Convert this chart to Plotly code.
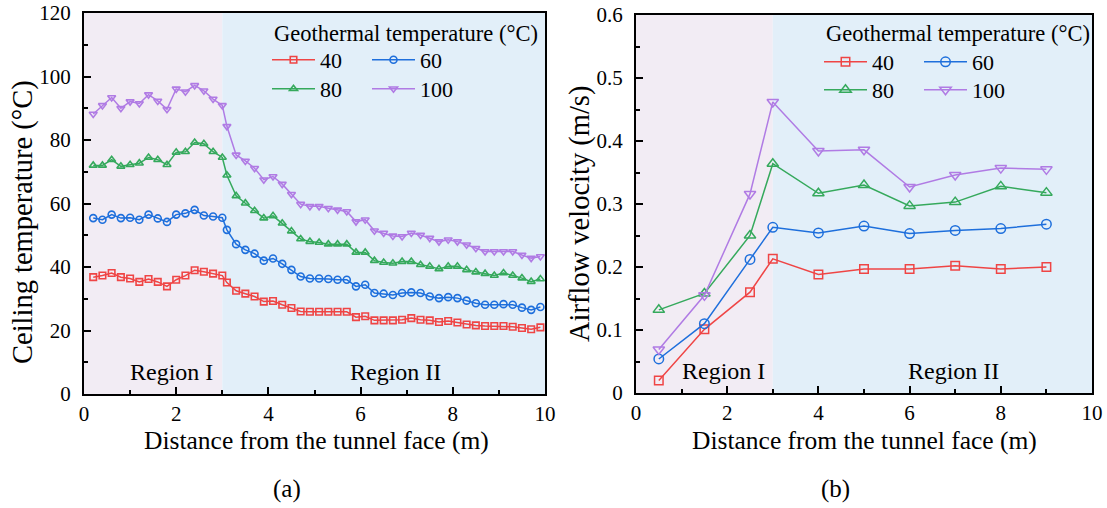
import plotly.graph_objects as go

# ---------------- data ----------------
# (a) ceiling temperature vs distance
dist_a = [0.2, 0.4, 0.6, 0.8, 1.0, 1.2, 1.4, 1.6, 1.8, 2.0, 2.2, 2.4, 2.6, 2.8, 3.0,
          3.1,
          3.3, 3.5, 3.7, 3.9, 4.1, 4.3, 4.5, 4.7, 4.9, 5.1, 5.3, 5.5, 5.7, 5.9, 6.1, 6.3,
          6.5, 6.7, 6.9, 7.1, 7.3, 7.5, 7.7, 7.9, 8.1, 8.3, 8.5, 8.7, 8.9, 9.1, 9.3, 9.5, 9.7, 9.9]
temp_40 = [36.8, 37.3, 38.1, 36.8, 36.4, 35.3, 36.2, 35.3, 33.9, 36.0, 37.3, 39.0, 38.5, 37.9, 37.3,
           35.1,
           32.5, 31.6, 30.7, 29.1, 29.3, 28.1, 27.1, 26.0, 25.9, 25.9, 25.9, 25.9, 25.9, 24.2, 24.5, 23.2,
           23.2, 23.2, 23.4, 23.9, 23.4, 23.2, 22.7, 23.0, 22.5, 21.9, 21.6, 21.4, 21.4, 21.4, 21.2, 20.8, 20.4, 21.0]
temp_60 = [55.4, 54.9, 56.5, 55.4, 55.5, 54.9, 56.5, 55.3, 54.2, 56.5, 56.9, 58.0, 56.2, 55.9, 55.5,
           51.7,
           47.2, 45.4, 44.2, 42.0, 42.7, 41.0, 39.1, 37.0, 36.4, 36.4, 36.2, 36.0, 36.0, 33.9, 34.4, 31.8,
           31.6, 31.2, 31.8, 32.0, 31.8, 30.7, 30.2, 30.5, 30.2, 29.4, 28.6, 28.1, 28.1, 28.3, 28.1, 27.2, 26.5, 27.4]
temp_80 = [72.0, 72.0, 73.8, 71.7, 72.2, 72.7, 74.5, 73.8, 72.2, 76.1, 76.3, 79.2, 78.8, 76.3, 74.5,
           68.9,
           62.4, 60.1, 57.7, 55.4, 56.1, 53.8, 51.3, 48.8, 48.0, 47.7, 47.2, 47.2, 47.2, 44.6, 44.6, 42.0,
           41.4, 41.2, 41.7, 41.7, 40.7, 40.2, 39.4, 40.2, 40.2, 39.1, 38.4, 37.9, 37.3, 38.1, 37.3, 36.5, 35.4, 36.2]
temp_100 = [88.2, 90.9, 93.4, 90.0, 92.1, 91.5, 94.3, 92.3, 89.7, 96.1, 95.2, 97.2, 95.5, 92.9, 90.9,
            84.3,
            75.3, 73.4, 71.1, 67.5, 68.5, 66.1, 62.9, 59.8, 59.1, 59.1, 58.5, 58.0, 57.5, 54.3, 54.9, 51.4,
            50.7, 49.8, 49.6, 50.7, 50.1, 49.1, 48.0, 48.6, 48.0, 47.0, 45.9, 44.9, 44.9, 44.9, 44.9, 43.8, 42.8, 43.3]

# (b) airflow velocity vs distance
dist_b = [0.5, 1.5, 2.5, 3, 4, 5, 6, 7, 8, 9]
vel_40 = [0.020, 0.101, 0.160, 0.213, 0.188, 0.197, 0.197, 0.202, 0.197, 0.200]
vel_60 = [0.054, 0.110, 0.212, 0.263, 0.254, 0.265, 0.253, 0.258, 0.261, 0.268]
vel_80 = [0.132, 0.158, 0.250, 0.364, 0.317, 0.330, 0.297, 0.303, 0.328, 0.318]
vel_100 = [0.069, 0.155, 0.316, 0.462, 0.384, 0.386, 0.327, 0.346, 0.357, 0.355]

series_names = ["40", "60", "80", "100"]
region_split = 3.0
x_range = [0, 10]

# ---------------- style ----------------
FONT = "Liberation Serif"
colors = ["#EF4545", "#1E6FDC", "#35A95C", "#B07BE4"]
symbols = ["square-open", "circle-open", "triangle-up-open", "triangle-down-open"]
sizes_a = [6.5, 7, 7, 7]
sizes_b = [8.5, 9.5, 10, 10]
bg_region1 = "#F2ECF4"
bg_region2 = "#E2EFF9"

W, H = 1107, 508
def px(x):
    return x / W
def py(y):
    return 1 - y / H

fig = go.Figure()

temps = [temp_40, temp_60, temp_80, temp_100]
vels = [vel_40, vel_60, vel_80, vel_100]
legends_a = ["legend", "legend", "legend2", "legend2"]
legends_b = ["legend3", "legend3", "legend4", "legend4"]

for i in range(4):
    fig.add_trace(go.Scatter(
        x=dist_a, y=temps[i], name=series_names[i], mode="lines+markers",
        line=dict(color=colors[i], width=1.5),
        marker=dict(symbol=symbols[i], size=sizes_a[i], color=colors[i], line=dict(width=1.6, color=colors[i])),
        xaxis="x", yaxis="y", legend=legends_a[i]))
for i in range(4):
    fig.add_trace(go.Scatter(
        x=dist_b, y=vels[i], name=series_names[i], mode="lines+markers",
        line=dict(color=colors[i], width=1.5),
        marker=dict(symbol=symbols[i], size=sizes_b[i], color=colors[i], line=dict(width=1.5, color=colors[i])),
        xaxis="x2", yaxis="y2", legend=legends_b[i]))

# region shading
for xr, yr in [("x", "y domain"), ("x2", "y2 domain")]:
    fig.add_shape(type="rect", xref=xr, yref=yr, x0=x_range[0], x1=region_split, y0=0, y1=1,
                  fillcolor=bg_region1, line_width=0, layer="below")
    fig.add_shape(type="rect", xref=xr, yref=yr, x0=region_split, x1=x_range[1], y0=0, y1=1,
                  fillcolor=bg_region2, line_width=0, layer="below")

axis_common = dict(
    showline=True, linecolor="black", linewidth=2, mirror=True,
    ticks="inside", ticklen=7, tickwidth=1.5, tickcolor="black",
    showgrid=False, zeroline=False, automargin=False,
    tickfont=dict(family=FONT, size=21, color="black"),
)
minor_x = dict(dtick=1, ticks="inside", ticklen=4, tickwidth=1.5, tickcolor="black")

fig.update_layout(
    width=W, height=H,
    margin=dict(l=0, r=0, t=0, b=0, autoexpand=False),
    paper_bgcolor="white", plot_bgcolor="white",
    font=dict(family=FONT, color="black"),
    xaxis=dict(domain=[px(84), px(545)], range=x_range, dtick=2, minor=minor_x,
               anchor="y", ticklabelstandoff=0, **axis_common),
    yaxis=dict(domain=[py(394), py(13)], range=[0, 120], dtick=20,
               minor=dict(dtick=10, ticks="inside", ticklen=4, tickwidth=1.5, tickcolor="black"),
               anchor="x", ticklabelstandoff=7, **axis_common),
    xaxis2=dict(domain=[px(636), px(1092)], range=x_range, dtick=2, minor=minor_x,
                anchor="y2", ticklabelstandoff=0, **axis_common),
    yaxis2=dict(domain=[py(393), py(15)], range=[0, 0.6], dtick=0.1,
                minor=dict(dtick=0.05, ticks="inside", ticklen=4, tickwidth=1.5, tickcolor="black"),
                anchor="x2", ticklabelstandoff=7, **axis_common),
)

leg_common = dict(orientation="h", bgcolor="rgba(0,0,0,0)", borderwidth=0,
                  font=dict(family=FONT, size=22, color="black"),
                  entrywidth=42, entrywidthmode="pixels", itemwidth=43,
                  xanchor="left", yanchor="middle", traceorder="normal")
fig.update_layout(
    legend=dict(x=px(267), y=py(60), **leg_common),
    legend2=dict(x=px(267), y=py(89), **leg_common),
    legend3=dict(x=px(819), y=py(62), **leg_common),
    legend4=dict(x=px(819), y=py(90), **leg_common),
)

annos = [
    dict(text="Geothermal temperature (°C)", x=px(272), y=py(33), xanchor="left", size=22.5),
    dict(text="Geothermal temperature (°C)", x=px(824), y=py(33), xanchor="left", size=22.5),
    dict(text="Region I", x=px(171), y=py(372), xanchor="center", size=24),
    dict(text="Region II", x=px(395), y=py(372), xanchor="center", size=24),
    dict(text="Region I", x=px(723), y=py(371), xanchor="center", size=24),
    dict(text="Region II", x=px(953), y=py(371), xanchor="center", size=24),
    dict(text="Distance from the tunnel face (m)", x=px(316), y=py(440), xanchor="center", size=25.5),
    dict(text="Distance from the tunnel face (m)", x=px(864), y=py(440), xanchor="center", size=25.5),
    dict(text="(a)", x=px(287), y=py(489), xanchor="center", size=25),
    dict(text="(b)", x=px(835), y=py(489), xanchor="center", size=25),
]
for a in annos:
    fig.add_annotation(text=a["text"], x=a["x"], y=a["y"], xref="paper", yref="paper",
                       xanchor=a["xanchor"], yanchor="middle", showarrow=False,
                       font=dict(family=FONT, size=a["size"], color="black"))

fig.add_annotation(text="Ceiling temperature (°C)", x=px(23), y=py(222), xref="paper", yref="paper",
                   textangle=-90, showarrow=False, xanchor="center", yanchor="middle",
                   font=dict(family=FONT, size=28.5, color="black"))
fig.add_annotation(text="Airflow velocity (m/s)", x=px(580), y=py(214), xref="paper", yref="paper",
                   textangle=-90, showarrow=False, xanchor="center", yanchor="middle",
                   font=dict(family=FONT, size=28.5, color="black"))

fig.write_html("out.html", config={"displayModeBar": False},
               post_script="document.body.style.margin='0';document.body.style.padding='0';")
